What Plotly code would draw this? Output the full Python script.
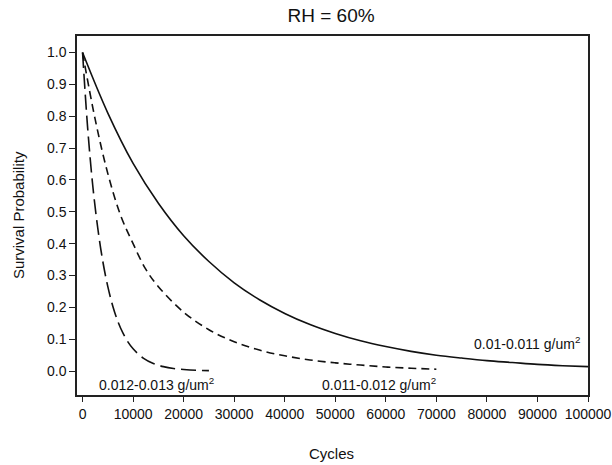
import plotly.graph_objects as go

# Solid curve: 0.01-0.011 g/um^2
cycles_a = [0, 5000, 10000, 15000, 20000, 25000, 30000, 35000, 40000, 45000, 50000,
            55000, 60000, 65000, 70000, 75000, 80000, 85000, 90000, 95000, 100000]
surv_a = [1.0, 0.81, 0.652, 0.527, 0.425, 0.344, 0.277, 0.224, 0.181, 0.146, 0.118,
          0.095, 0.077, 0.062, 0.050, 0.041, 0.033, 0.027, 0.021, 0.017, 0.014]

# Medium dash: 0.011-0.012 g/um^2
cycles_b = [0, 2500, 5000, 7500, 10000, 12500, 15000, 20000, 25000, 30000, 35000,
            40000, 45000, 50000, 55000, 60000, 65000, 70000]
surv_b = [1.0, 0.79, 0.62, 0.49, 0.40, 0.32, 0.265, 0.185, 0.13, 0.092, 0.066,
          0.048, 0.035, 0.026, 0.019, 0.013, 0.009, 0.006]

# Long dash: 0.012-0.013 g/um^2
cycles_c = [0, 1000, 2000, 3000, 4000, 5000, 6000, 7000, 8000, 9000, 10000,
            12000, 14000, 16000, 18000, 20000, 22500, 25000]
surv_c = [1.0, 0.765, 0.585, 0.45, 0.345, 0.265, 0.203, 0.155, 0.119, 0.091, 0.07,
          0.041, 0.024, 0.014, 0.008, 0.005, 0.0025, 0.0014]

labels = ["0.01-0.011 g/um<sup>2</sup>", "0.011-0.012 g/um<sup>2</sup>", "0.012-0.013 g/um<sup>2</sup>"]
label_x = [88000, 58600, 14600]
label_y = [0.088, -0.04, -0.04]

x_ticks = list(range(0, 100001, 10000))
y_ticks = [round(i * 0.1, 1) for i in range(11)]

FONT = "Liberation Sans, Arial, Helvetica, sans-serif"

fig = go.Figure()
fig.add_trace(go.Scatter(x=cycles_a, y=surv_a, mode="lines",
                         line=dict(color="#111111", width=1.6, shape="spline", dash="solid")))
fig.add_trace(go.Scatter(x=cycles_b, y=surv_b, mode="lines",
                         line=dict(color="#111111", width=1.6, shape="spline", dash="8px,5px")))
fig.add_trace(go.Scatter(x=cycles_c, y=surv_c, mode="lines",
                         line=dict(color="#111111", width=1.6, shape="spline", dash="15px,6px")))

for t, xx, yy in zip(labels, label_x, label_y):
    fig.add_annotation(x=xx, y=yy, text=t, showarrow=False, xref="x", yref="y",
                       font=dict(family=FONT, size=14, color="#111111"))

# Axis titles as paper annotations for exact placement
fig.add_annotation(text="Cycles", xref="paper", yref="paper", x=0.499, y=-0.162,
                   xanchor="center", yanchor="middle", showarrow=False,
                   font=dict(family=FONT, size=15, color="#111111"))
fig.add_annotation(text="Survival Probability", xref="paper", yref="paper", x=-0.1155, y=0.501,
                   xanchor="center", yanchor="middle", showarrow=False, textangle=-90,
                   font=dict(family=FONT, size=15, color="#111111"))

fig.update_layout(
    width=612, height=465,
    margin=dict(l=77, r=24, t=36, b=70),
    paper_bgcolor="white", plot_bgcolor="white",
    showlegend=False,
    font=dict(family=FONT, size=14, color="#111111"),
    title=dict(text="RH = 60%", x=0.541, xanchor="center", y=0.966, yanchor="middle",
               font=dict(family=FONT, size=19, color="#111111")),
)
fig.update_xaxes(range=[-1100, 100000], tickvals=x_ticks, ticktext=[str(v) for v in x_ticks],
                 showgrid=False, zeroline=False, showline=True, linecolor="#222222", linewidth=1.5,
                 mirror=True, ticks="outside", ticklen=5, tickwidth=1.2, tickcolor="#222222",
                 tickfont=dict(size=14), automargin=False)
fig.update_yaxes(range=[-0.075, 1.052], tickvals=y_ticks, ticktext=[f"{v:.1f}" for v in y_ticks],
                 showgrid=False, zeroline=False, showline=True, linecolor="#222222", linewidth=1.5,
                 mirror=True, ticks="outside", ticklen=6, tickwidth=1.2, tickcolor="#222222",
                 tickfont=dict(size=14), automargin=False)

fig.write_html("out.html")
